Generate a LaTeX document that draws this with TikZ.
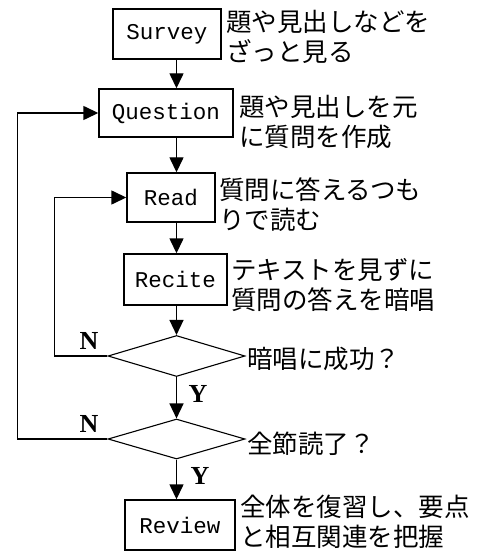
\documentclass[tikz,border=0pt]{standalone}
\usepackage{fontspec}
\setmainfont{Liberation Serif}
\newfontfamily\boxfont{Liberation Mono}
\newfontfamily\jpfont{Noto Sans CJK JP}
\usetikzlibrary{shapes.geometric,arrows.meta}
\begin{document}
\begin{tikzpicture}[x=1pt,y=-1pt,
  stepbox/.style={draw,line width=1.4pt,inner sep=0pt,font=\boxfont\fontsize{22.5}{24}\selectfont},
  decision/.style={draw,diamond,line width=1.1pt,inner sep=0pt},
  note/.style={anchor=west,inner sep=0pt,align=left,font=\jpfont\fontsize{25.5}{30}\selectfont},
  yn/.style={inner sep=0pt,font=\bfseries\fontsize{26}{26}\selectfont},
  arr/.style={line width=1.4pt,-{Triangle[length=15pt,width=14pt]}}]
\useasboundingbox (0,0) rectangle (481,553);
\node[stepbox,minimum width=108pt,minimum height=50pt] (survey) at (167,34) {Survey};
\node[stepbox,minimum width=134pt,minimum height=48pt] (question) at (166,113) {Question};
\node[stepbox,minimum width=88pt,minimum height=49pt] (read) at (171,197.5) {Read};
\node[stepbox,minimum width=103pt,minimum height=51pt] (recite) at (175.5,279.5) {Recite};
\node[decision,minimum width=137pt,minimum height=41pt] (d1) at (176.5,356) {};
\node[decision,minimum width=137pt,minimum height=40pt] (d2) at (176.5,439) {};
\node[stepbox,minimum width=110pt,minimum height=50pt] (review) at (180,525) {Review};

\node[note] (tsurvey) at (226,37) {題や見出しなどを\\ざっと見る};
\node[note] (tquestion) at (239,122) {題や見出しを元\\に質問を作成};
\node[note] (tread) at (219,205) {質問に答えるつも\\りで読む};
\node[note] (trecite) at (231,285) {テキストを見ずに\\質問の答えを暗唱};
\node[note] (td1) at (247,359) {暗唱に成功？};
\node[note] (td2) at (247,444) {全節読了？};
\node[note] (treview) at (240,522) {全体を復習し、要点\\と相互関連を把握};

\node[yn] (n1) at (89,341) {N};
\node[yn] (n2) at (89,424) {N};
\node[yn] (y1) at (198,394) {Y};
\node[yn] (y2) at (200,476) {Y};

\draw[arr] (survey.south -| d1.north) -- (question.north -| d1.north);
\draw[arr] (question.south -| d1.north) -- (read.north -| d1.north);
\draw[arr] (read.south -| d1.north) -- (recite.north -| d1.north);
\draw[arr] (recite.south -| d1.north) -- (d1.north);
\draw[arr] (d1.south) -- (d2.north);
\draw[arr] (d2.south) -- (review.north -| d2.south);
\draw[arr] (d1.west) -- ++(-53,0) |- (read.west);
\draw[arr] (d2.west) -- ++(-90,0) |- (question.west);
\end{tikzpicture}
\end{document}
